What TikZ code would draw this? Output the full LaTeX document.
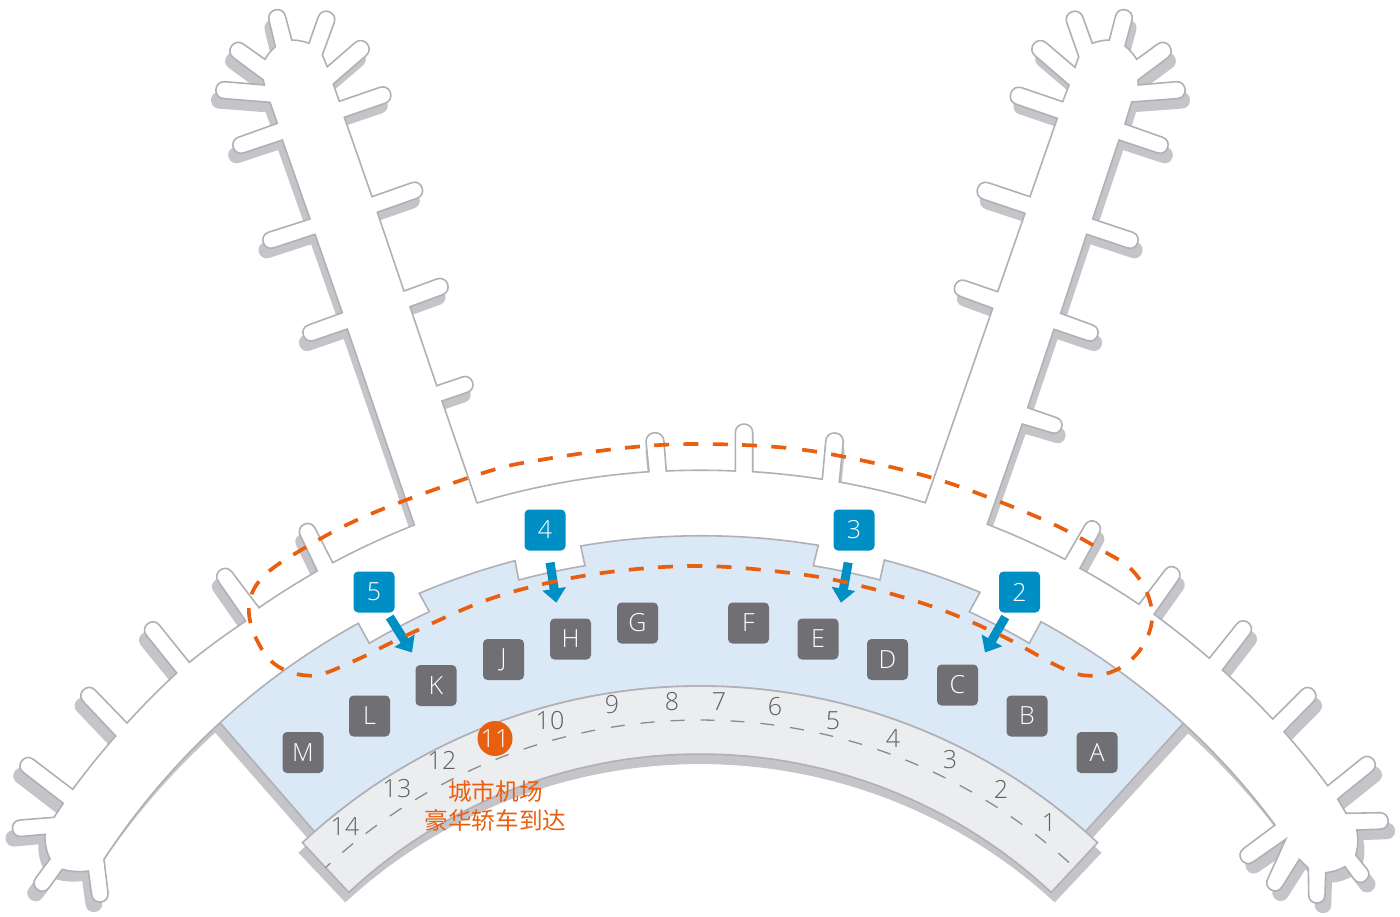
\documentclass[tikz,border=0pt]{standalone}
\usepackage{fontspec}
\setmainfont{Open Sans Light}
\newfontfamily\cjkfont{Noto Sans CJK SC}
\usetikzlibrary{arrows.meta}
\definecolor{shadowc}{HTML}{C4C4C9}
\definecolor{edgec}{HTML}{B0B0B6}
\definecolor{halle}{HTML}{DBE8F5}
\definecolor{bandc}{HTML}{ECEDEF}
\definecolor{badgeb}{HTML}{008FC5}
\definecolor{badgeg}{HTML}{706F74}
\definecolor{routec}{HTML}{E8600F}
\definecolor{numc}{HTML}{5F6063}
\definecolor{dashc}{HTML}{8A8B8E}
\tikzset{
  tipL/.style={bend right=90,looseness=1.7},
  tipR/.style={bend left=90,looseness=1.7},
  arL/.style={bend right=#1,looseness=.85},
  arR/.style={bend left=#1,looseness=.85},
  outline/.style={draw=edgec,line width=1.6pt,line join=miter,fill=white},
  badge/.style={rounded corners=4.5pt,minimum size=41pt,inner sep=0pt,text=white,font=\fontsize{25}{28}\selectfont},
  badgeblue/.style={badge,fill=badgeb},
  badgegray/.style={badge,fill=badgeg},
  gatenum/.style={text=numc,inner sep=0pt,font=\fontsize{25}{28}\selectfont},
  flow/.style={draw=badgeb,line width=9pt,-{Triangle[width=23pt,length=14pt]}},
  route/.style={draw=routec,line width=3.7pt,dash pattern=on 15pt off 14.3pt,dash phase=15pt},
  cjktext/.style={text=routec,inner sep=0pt,font=\cjkfont\fontsize{23.6}{28}\selectfont}
}
\newcommand{\LeftOutline}{
  (477,503) -- (442,401) -- (467.5,392.3) to[tipL] (462.2,377) -- (436.7,385.7)
  -- (410,306.7) -- (442.7,294.7) to[tipL] (436.7,279) -- (404,291)
  -- (377.3,212.3) -- (417,198.3) to[tipL] (411.7,182.7) -- (372,196.7)
  -- (344.3,117.3) -- (385,103.3) to[tipL] (380,87.3) -- (339.3,101.3)
  -- (333.3,84) -- (366.1,55.6) to[tipL] (355,42.7) -- (327.3,66.7)
  -- (322.3,55) -- (334.2,22.7) to[tipL] (318.3,16.7) -- (309,43.3)
  to[arL=10] (291.7,40) -- (285.5,16.1) to[tipL] (269,20) -- (275.3,46.7)
  to[arL=10] (265,59.3) -- (243.3,44) to[tipL] (233.5,57.9) -- (263.3,80)
  -- (264.3,85) -- (225,81.7) to[tipL] (223.6,98.6) -- (270,102.3)
  -- (277.3,123.3) -- (238.3,137.3) to[tipL] (243.9,152.8) -- (282.3,140)
  -- (310,219) -- (268.3,232.3) to[tipL] (273.9,247.8) -- (315,234.3)
  -- (342.3,312.7) -- (308.3,325) to[tipL] (314,340.5) -- (347.3,329)
  -- (414.3,525) to[arL=3.3] (332.7,562.7) -- (315,528) to[tipL] (300.3,535.5) -- (317.3,571)
  to[arL=2.5] (259,607.7) -- (231.7,571.7) to[tipL] (218.5,581.7) -- (245.7,621)
  to[arL=2.6] (189.3,662.3) -- (159.3,625) to[tipL] (146.4,635.3) -- (176.7,673)
  to[arL=2.6] (127,723) -- (95,690) to[tipL] (83.2,701.5) -- (115.7,736)
  to[arL=2.5] (72.7,789.3) -- (33.3,759.3) to[tipL] (23.3,772.4) -- (63.3,803.3)
  -- (54,817.3) -- (20,820) to[tipL] (21.3,836.5) -- (45,834.3)
  to[arL=15] (50,859) -- (35.7,878) to[tipL] (48.9,887.9) -- (62.3,869.3)
  to[arL=12] (88.3,871) -- (91.7,895) to[tipL] (108,892.7) -- (104,859.3)
  to[arR=7.2] (220,722.7)
}
\newcommand{\RightOutline}{
  (477,503) to[arR=6.4] (649,471.7) -- (646,441.7) to[tipR] (664,441.7) -- (666.3,471)
  to[arR=2.5] (735.3,471) -- (735.3,432.7) to[tipR] (752.7,432.7) -- (752.7,471.7)
  to[arR=2.6] (822.3,479.3) -- (825.7,441.7) to[tipR] (843.3,441.7) -- (839.3,482)
  to[arR=3.3] (925.3,502.7)
  -- (992.7,308.3) -- (960,296.3) to[tipR] (965.3,280.6) -- (997.7,291.7)
  -- (1025,213.3) -- (983.3,199.3) to[tipR] (988.3,182.7) -- (1030,196.7)
  -- (1057.3,118.3) -- (1016.3,104.3) to[tipR] (1021.7,87.7) -- (1062.7,101.7)
  -- (1069,85) -- (1034.9,55.6) to[tipR] (1046,42.7) -- (1075,67.3)
  -- (1078.7,56.7) -- (1066.8,22.7) to[tipR] (1082.7,16.7) -- (1092.3,43.3)
  to[arR=10] (1109.3,40) -- (1115.5,16.1) to[tipR] (1132,20) -- (1125,46)
  to[arR=10] (1136.7,59.3) -- (1157.7,44) to[tipR] (1167.5,57.9) -- (1138,80)
  -- (1138.3,85) -- (1176,81.7) to[tipR] (1177.4,98.6) -- (1131.7,102)
  -- (1125,124) -- (1162.7,137.3) to[tipR] (1157.1,152.8) -- (1119,140)
  -- (1092.7,219) -- (1132.7,232.3) to[tipR] (1127.1,247.8) -- (1086.7,234.3)
  -- (1060.7,313.3) -- (1092.7,325) to[tipR] (1087,340.5) -- (1054,329.3)
  -- (1027.7,407.7) -- (1056.7,417.7) to[tipR] (1051.4,432.7) -- (1022.3,424)
  -- (987.3,524.3) to[arR=3.1] (1065,559.3) -- (1085,525) to[tipR] (1099.2,533.3) -- (1080,568.3)
  to[arR=2.5] (1139,604.3) -- (1165,570) to[tipR] (1178.2,580) -- (1154,614.3)
  to[arR=2.6] (1209.3,658.3) -- (1236.7,624) to[tipR] (1249.6,634.3) -- (1222.3,670)
  to[arR=2.6] (1272.7,719) -- (1301.7,690) to[tipR] (1313.4,701.7) -- (1284,731.7)
  to[arR=2.6] (1327.7,785.7) -- (1361.7,758.3) to[tipR] (1372.1,771.2) -- (1337.7,799)
  -- (1346,813.3) -- (1380,812.7) to[tipR] (1380,829.2) -- (1356.7,830)
  to[arR=15] (1355.7,855) -- (1367,869) to[tipR] (1354,879.2) -- (1345,866.7)
  to[arR=12] (1325.7,872.7) -- (1325,895) to[tipR] (1308.7,895) -- (1308.3,868.3)
  -- (1299.3,859.3) -- (1282,887) to[tipR] (1268,878.2) -- (1285.7,839.3)
  -- (1253,862) to[tipR] (1243.6,848.5) -- (1275,825)
  to[arL=5.5] (1183.3,723.3)
}
\newcommand{\HallOutline}{
  (220,722.7) to[arR=6.9] (358.3,623.3) -- (369.3,643.3) to[arR=2.7] (429.3,611.7) -- (419.3,593.3)
  to[arR=4.1] (515,560.7) -- (518.7,580) to[arR=2.7] (585,565.7) -- (580.7,546)
  to[arR=9.6] (818.3,545.3) -- (813.3,565.7) to[arR=2.7] (880,580) -- (884.3,560)
  to[arR=4.1] (980,592.3) -- (969.3,611.7) to[arR=2.7] (1029.3,643.3) -- (1041,621.7)
  to[arR=7] (1183.3,723.3) -- (1085,832)
  -- plot[domain=41.4:-41.4,samples=50] ({700+583*sin(\x)},{1269-583*cos(\x)}) -- cycle
}
\newcommand{\BandOutline}{
  plot[domain=-43:43,samples=60] ({700+583*sin(\x)},{1269-583*cos(\x)})
  -- plot[domain=43:-43,samples=60] ({700+515*sin(\x)},{1269-515*cos(\x)}) -- cycle
}
\begin{document}
\begin{tikzpicture}[x=1pt,y=-1pt]
\useasboundingbox (0,0) rectangle (1400,916);
% shadows
\begin{scope}[shift={(700,10)},xscale=1.01,shift={(-700,0)}]
  \fill[shadowc] \LeftOutline;
  \fill[shadowc] \RightOutline;
  \fill[shadowc] \HallOutline;
  \fill[shadowc] \BandOutline;
\end{scope}
% concourse interior
\fill[white] (220,723) -- (240,680) -- (440,500) -- (477,503) -- (925,503) -- (960,500) -- (1160,680) -- (1183,723) -- cycle;
% piers and concourse
\path[outline] \LeftOutline;
\path[outline] \RightOutline;
% hall and gate band
\path[draw=edgec,line width=1.6pt,fill=halle] \HallOutline;
\path[draw=edgec,line width=1.6pt,fill=bandc] \BandOutline;
% gate centre line
\draw[dashc,line width=1.3pt,dash pattern=on 14pt off 16pt,dash phase=7.5pt]
  plot[domain=-43:43,samples=80] ({700+549*sin(\x)},{1269-549*cos(\x)});
% flow arrows
\node[badgeblue] (b5) at (374,592) {5};
\node[badgeblue] (b4) at (545,530) {4};
\node[badgeblue] (b3) at (854,530) {3};
\node[badgeblue] (b2) at (1019.5,592) {2};
\coordinate (t5) at (412,652.5);
\coordinate (t4) at (556.3,602.7);
\coordinate (t3) at (841,602.7);
\coordinate (t2) at (985,652.5);
\draw[flow,shorten <=5pt] (b5) -- (t5);
\draw[flow,shorten <=12pt] (b4) -- (t4);
\draw[flow,shorten <=12pt] (b3) -- (t3);
\draw[flow,shorten <=5pt] (b2) -- (t2);
% route
\draw[route] plot[smooth cycle,tension=.6] coordinates {
 (700,444) (788,448) (860,460) (931.7,477.7) (986.7,496.7) (1053,524) (1105,552) (1130,568)
 (1146.7,592) (1152,620) (1141.7,647.7) (1120,668) (1091.7,675.7) (1061.7,668) (1000,635)
 (930,605.7) (843,581.7) (773,571) (700,566) (626.7,570) (556.7,581) (485,600.7) (405,636)
 (351.7,662) (310,675.7) (270.7,660.7) (249.3,616.7) (260,580) (306.7,546.7) (373,513)
 (483,473) (540,460) (626.7,447.7)};
% gates
\node[badgegray] (gM) at (303,752.5) {M};
\node[badgegray] (gL) at (369.5,716) {L};
\node[badgegray] (gK) at (436,685.5) {K};
\node[badgegray] (gJ) at (503.5,659.5) {J};
\node[badgegray] (gH) at (570.5,639) {H};
\node[badgegray] (gG) at (637.5,623) {G};
\node[badgegray] (gF) at (748.5,623) {F};
\node[badgegray] (gE) at (818,639) {E};
\node[badgegray] (gD) at (887.5,659.5) {D};
\node[badgegray] (gC) at (957.5,685) {C};
\node[badgegray] (gB) at (1027,716) {B};
\node[badgegray] (gA) at (1097,752.5) {A};
% door numbers
\node[gatenum] (n14) at (345,827) {14};
\node[gatenum] (n13) at (397,789) {13};
\node[gatenum] (n12) at (442,760) {12};
\node[gatenum] (n10) at (550,721) {10};
\node[gatenum] (n9) at (612,705) {9};
\node[gatenum] (n8) at (672,702) {8};
\node[gatenum] (n7) at (719,702) {7};
\node[gatenum] (n6) at (775,707) {6};
\node[gatenum] (n5) at (833,721) {5};
\node[gatenum] (n4) at (893,739) {4};
\node[gatenum] (n3) at (950,760) {3};
\node[gatenum] (n2) at (1001,789) {2};
\node[gatenum] (n1) at (1049,823) {1};
\node[circle,fill=routec,minimum size=35pt,inner sep=0pt,text=white,font=\fontsize{25}{28}\selectfont] (n11) at (495,738.5) {11};
\node[cjktext] (c1) at (495.5,791) {城市机场};
\node[cjktext] (c2) at (495.5,820) {豪华轿车到达};
\end{tikzpicture}
\end{document}
